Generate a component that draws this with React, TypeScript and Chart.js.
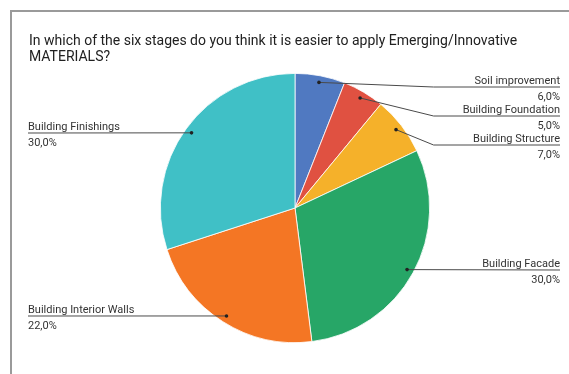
import React, { useEffect, useRef } from "react";
import { Chart, registerables } from "chart.js";

Chart.register(...registerables);

const titleLines = [
  "In which of the six stages do you think it is easier to apply Emerging/Innovative",
  "MATERIALS?",
];
const categories = [
  "Soil improvement",
  "Building Foundation",
  "Building Structure",
  "Building Facade",
  "Building Interior Walls",
  "Building Finishings",
];
const percentages = [6, 5, 7, 30, 22, 30];
const sliceColors = ["#5079C1", "#E05141", "#F5B12A", "#27A667", "#F47624", "#40C0C6"];

const FONT = "Roboto, 'Noto Sans', sans-serif";

const fmt = (v: number) => v.toFixed(1).replace(".", ",") + "%";

const overlayPlugin = {
  id: "overlay",
  afterDraw(chart: any) {
    const ctx = chart.ctx as CanvasRenderingContext2D;
    const W = chart.width;
    const H = chart.height;
    ctx.save();
    // frame
    ctx.fillStyle = "#9a9a9a";
    ctx.fillRect(10, 10, W - 10, 2);
    ctx.fillRect(10, 10, 2, H - 10);

    // title
    ctx.fillStyle = "#212121";
    ctx.font = `14px ${FONT}`;
    ctx.textAlign = "left";
    ctx.textBaseline = "alphabetic";
    titleLines.forEach((t, i) => ctx.fillText(t, 29, 44.5 + i * 16));

    const meta = chart.getDatasetMeta(0);
    const area = chart.chartArea;
    const items: any[] = [];
    meta.data.forEach((arc: any, i: number) => {
      const p = arc.getProps(["x", "y", "startAngle", "endAngle", "outerRadius"], true);
      const mid = (p.startAngle + p.endAngle) / 2;
      const r = p.outerRadius * 0.95;
      items.push({
        i,
        cx: p.x,
        R: p.outerRadius,
        dx: p.x + Math.cos(mid) * r,
        dy: p.y + Math.sin(mid) * r,
        right: Math.cos(mid) >= 0,
      });
    });
    const minY = area.top + 14;
    const gap = 29;
    [true, false].forEach((side) => {
      const group = items.filter((it) => it.right === side).sort((a, b) => a.dy - b.dy);
      let prev = -Infinity;
      group.forEach((it) => {
        let y = Math.max(it.dy, prev + gap, minY);
        it.ly = Math.round(y);
        prev = it.ly;
      });
    });

    items.forEach((it) => {
      const endX = it.right ? W - 9 : 28;
      const elbowX = it.right ? it.cx + it.R + 4 : it.cx - it.R - 4;
      ctx.strokeStyle = "#4a4a4a";
      ctx.lineWidth = 1;
      ctx.beginPath();
      ctx.moveTo(it.dx, it.dy);
      if (Math.abs(it.ly - it.dy) > 1) {
        ctx.lineTo(elbowX, it.ly);
      }
      ctx.lineTo(endX, it.ly);
      ctx.stroke();
      ctx.fillStyle = "#222";
      ctx.beginPath();
      ctx.arc(it.dx, it.dy, 1.8, 0, Math.PI * 2);
      ctx.fill();

      ctx.fillStyle = "#333";
      ctx.font = `11px ${FONT}`;
      ctx.textAlign = it.right ? "right" : "left";
      ctx.fillText(categories[it.i], endX, it.ly - 3);
      ctx.fillText(fmt(percentages[it.i]), endX, it.ly + 13);
    });
    ctx.restore();
  },
};

export default function App() {
  const ref = useRef<HTMLCanvasElement>(null);
  useEffect(() => {
    if (!ref.current) return;
    const chart = new Chart(ref.current, {
      type: "pie",
      data: {
        labels: categories,
        datasets: [
          {
            data: percentages,
            backgroundColor: sliceColors,
            borderColor: "#ffffff",
            borderWidth: 0.8,
          },
        ],
      },
      options: {
        responsive: false,
        animation: false,
        devicePixelRatio: 1,
        layout: { padding: { top: 73, bottom: 31, left: 160, right: 139 } },
        plugins: {
          legend: { display: false },
          tooltip: { enabled: false },
          title: { display: false },
        },
      },
      plugins: [overlayPlugin],
    });
    return () => chart.destroy();
  }, []);
  return (
    <div style={{ position: "fixed", left: 0, top: 0, width: 569, height: 374, background: "#fff" }}>
      <canvas ref={ref} width={569} height={374} style={{ display: "block" }} />
    </div>
  );
}
